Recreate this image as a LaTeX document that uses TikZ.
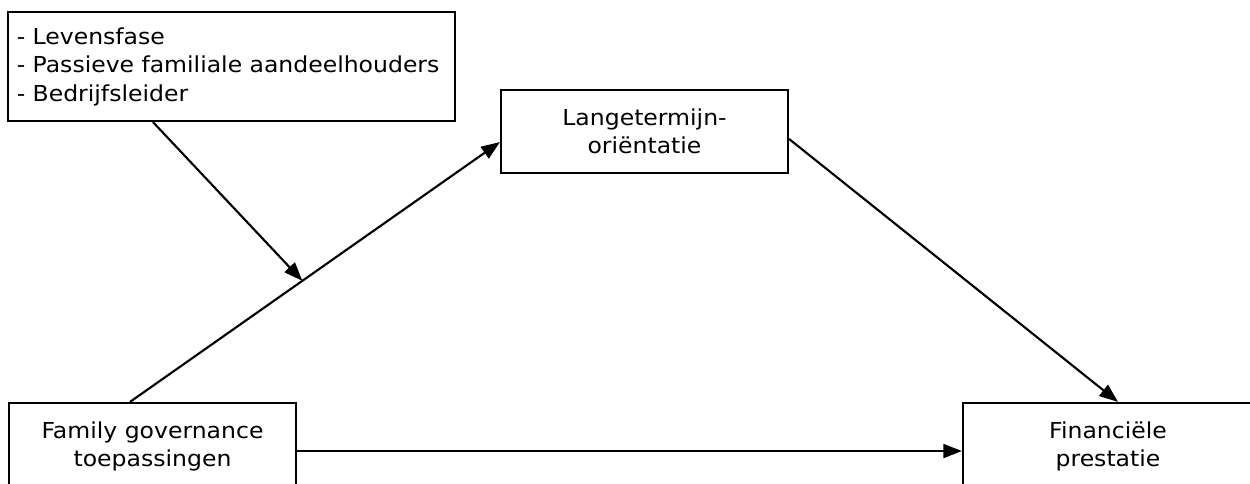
\documentclass[tikz,border=0pt]{standalone}
\usepackage{fontspec}
\setmainfont[FakeStretch=1.07]{DejaVu Sans}
\usetikzlibrary{arrows.meta,calc}

\tikzset{
  box/.style={draw=black, line width=1.6pt, fill=white, inner sep=0pt,
    align=center, font=\fontsize{16.5pt}{21.4pt}\selectfont},
  link/.style={draw=black, line width=1.6pt,
    -{Triangle[length=14pt,width=10.5pt]}}
}

\begin{document}
\begin{tikzpicture}[x=0.75pt,y=-0.75pt]
  \useasboundingbox (0,0) rectangle (1250,484);
  \clip (0,0) rectangle (1250,484);
  \fill[white] (0,0) rectangle (1250,484);

  % moderators
  \node[box, minimum width=335.25pt, minimum height=81.75pt,
        text width=322pt, align=left] (mod) at (231.5,66.5)
    {- Levensfase\\- Passieve familiale aandeelhouders\\- Bedrijfsleider};

  % mediator
  \node[box, minimum width=215.25pt, minimum height=62.25pt] (lto) at (644.5,131.5)
    {Langetermijn-\\oriëntatie};

  % independent and dependent variables
  \node[box, minimum width=215.25pt, minimum height=65.25pt] (fg) at (152.5,446.5)
    {Family governance\\toepassingen};
  \node[box, minimum width=217.5pt, minimum height=65.25pt] (fp) at (1108,446.5)
    {Financiële\\prestatie};

  % paths
  \draw[link] ([xshift=-16.9pt]fg.north) -- coordinate[pos=0.466] (hit)
              ([yshift=-7.9pt]lto.west);
  \draw[link] ([yshift=-5.6pt]lto.east) -- ([xshift=7.5pt]fp.north);
  \draw[link] ([yshift=-3.4pt]fg.east) -- ([yshift=-3.4pt]fp.west);
  \draw[link] ([xshift=-58.9pt]mod.south) -- (hit);
\end{tikzpicture}
\end{document}
